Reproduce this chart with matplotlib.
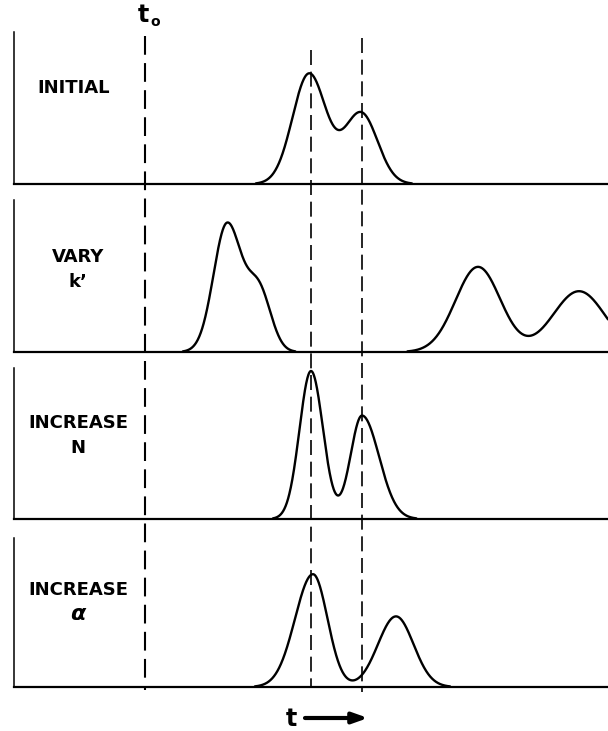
import numpy as np
import matplotlib
matplotlib.use("Agg")
import matplotlib.pyplot as plt

# ---------------- data (time in arbitrary units) ----------------
panel_titles = [["INITIAL"], ["VARY", "k\u2019"], ["INCREASE", "N"], ["INCREASE", "\u03b1"]]
t_zero = 2.62                 # unretained peak time t0
t_ref = [5.94, 6.96]          # retention times of the initial pair

# peak tables: position, height, left / right widths
initial_pos = [5.90, 6.94]
initial_height = [0.724, 0.467]
initial_sig_left = [0.33, 0.34]
initial_sig_right = [0.34, 0.33]

vary_pos = [4.26, 4.90, 9.28, 11.30]
vary_height = [0.84, 0.395, 0.56, 0.40]
vary_sig_left = [0.27, 0.24, 0.45, 0.52]
vary_sig_right = [0.29, 0.24, 0.45, 0.52]

incN_pos = [5.94, 6.96]
incN_height = [0.98, 0.685]
incN_sig_left = [0.23, 0.23]
incN_sig_right = [0.24, 0.34]

incA_pos = [5.98, 7.64]
incA_height = [0.757, 0.474]
incA_sig_left = [0.36, 0.36]
incA_sig_right = [0.29, 0.35]

panels = [
    (initial_pos, initial_height, initial_sig_left, initial_sig_right),
    (vary_pos, vary_height, vary_sig_left, vary_sig_right),
    (incN_pos, incN_height, incN_sig_left, incN_sig_right),
    (incA_pos, incA_height, incA_sig_left, incA_sig_right),
]

x_max = 11.88


def chromatogram(t, pos, height, sl, sr):
    y = np.zeros_like(t)
    for p, h, a, b in zip(pos, height, sl, sr):
        s = np.where(t < p, a, b)
        y += h * np.exp(-0.5 * ((t - p) / s) ** 2)
    return y


# ---------------- figure ----------------
W, H = 608, 731
fig = plt.figure(figsize=(W / 100, H / 100), dpi=100)
fig.patch.set_facecolor("white")

left_px, right_px = 14, 608
# (top px, baseline px) for each panel
panel_px = [(32, 184), (200, 352), (368, 519), (538, 687)]

t = np.linspace(0, x_max, 2400)
axes = []
for (top, base), (pos, hgt, sl, sr) in zip(panel_px, panels):
    ax = fig.add_axes([left_px / W, 1 - base / H, (right_px - left_px) / W, (base - top) / H])
    ax.set_xlim(0, x_max)
    ax.set_ylim(0, 1)
    for s in ("top", "right"):
        ax.spines[s].set_visible(False)
    ax.spines["left"].set_linewidth(1.1)
    ax.spines["bottom"].set_linewidth(1.6)
    ax.set_xticks([])
    ax.set_yticks([])
    ax.patch.set_alpha(0)
    y = chromatogram(t, pos, hgt, sl, sr)
    yy = np.where(y > 0.004, y, np.nan)
    ax.plot(t, yy, color="black", lw=1.7, solid_capstyle="round", clip_on=False)
    axes.append(ax)

# overlay for dashed reference lines and annotations (y in pixel rows)
ov = fig.add_axes([left_px / W, 0, (right_px - left_px) / W, 1])
ov.set_xlim(0, x_max)
ov.set_ylim(H, 0)
ov.axis("off")
ov.patch.set_alpha(0)

ov.vlines([t_zero], 36, 690, colors="black", linestyles=(0, (9, 4)), lw=1.5)
ov.vlines([t_ref[0]], 50, 688, colors="black", linestyles=(0, (9, 4)), lw=1.2)
ov.vlines([t_ref[1]], 38, 692, colors="black", linestyles=(0, (9, 4)), lw=1.2)

lab_font = dict(family="DejaVu Sans", fontweight="bold", fontsize=13, color="black")
label_y = [[88], [257, 282], [423, 448], [590, 614]]
label_x = [1.2, 1.28, 1.28, 1.28]
for lines, ys, lx in zip(panel_titles, label_y, label_x):
    for txt, yy in zip(lines, ys):
        kw = dict(lab_font)
        if txt == "\u03b1":
            kw["fontstyle"] = "italic"
            kw["fontsize"] = 16
        ov.text(lx, yy, txt, ha="center", va="center", **kw)

# t0 label
ov.text(t_zero - 0.03, 15, "t", ha="center", va="center",
        fontsize=17, fontweight="bold", family="DejaVu Sans")
ov.text(t_zero + 0.2, 22, "o", ha="center", va="center",
        fontsize=10, fontweight="bold", family="DejaVu Sans")

# time axis arrow
ov.text(5.54, 719, "t", ha="center", va="center",
        fontsize=17, fontweight="bold", family="DejaVu Sans")
ov.annotate("", xy=(7.08, 718), xytext=(5.82, 718),
            arrowprops=dict(arrowstyle="-|>,head_length=0.9,head_width=0.32",
                            lw=3, color="black", shrinkA=0, shrinkB=0))

fig.savefig("out.png", dpi=100, facecolor="white")
